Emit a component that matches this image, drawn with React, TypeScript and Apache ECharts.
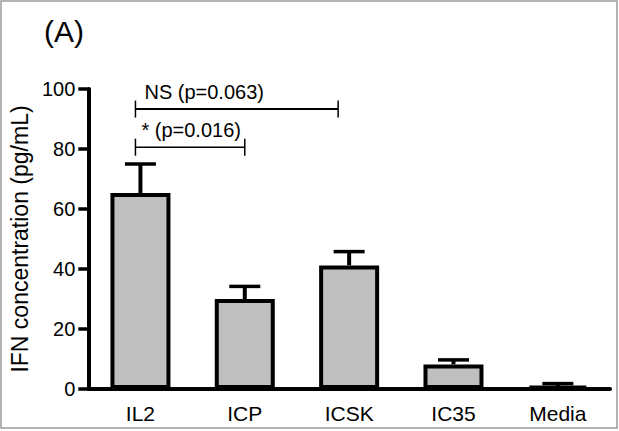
import React, { useEffect, useRef } from "react";
import * as echarts from "echarts";

// ---- data ----
const categories = ["IL2", "ICP", "ICSK", "IC35", "Media"];
const means = [65.3, 30.0, 41.2, 8.2, 1.0];
const errors = [9.7, 4.2, 4.6, 1.5, 0.8];
const yMin = 0;
const yMax = 100;
const yInterval = 20;
const bracketFrom = [0, 0];
const bracketTo = [2, 1];
const bracketY = [93.3, 80.6];
const bracketLabels = ["NS (p=0.063)", "* (p=0.016)"];
const titleText = "(A)";
const yAxisName = "IFN concentration (pg/mL)";

// ---- styles ----
const FONT = "Liberation Sans";
const bracketStartAdj = [-5, -5];
const bracketEndAdj = [-11, 0];
const bracketLineW = [2, 1.6];

export default function App() {
  const ref = useRef<HTMLDivElement>(null);
  useEffect(() => {
    if (!ref.current) return;
    const chart = echarts.init(ref.current, undefined, { renderer: "svg" });
    const option: any = {
      animation: false,
      backgroundColor: "#ffffff",
      title: {
        text: titleText,
        left: 39,
        top: 11,
        textStyle: { fontFamily: FONT, fontSize: 30, fontWeight: "normal", color: "#000" },
      },
      graphic: [
        {
          type: "rect",
          shape: { x: 1, y: 1, width: 616, height: 427 },
          style: { fill: "none", stroke: "#9a9a9a", lineWidth: 1.5 },
          silent: true,
          z: 100,
        },
      ],
      grid: { left: 87, right: 9, top: 89, bottom: 42, containLabel: false },
      xAxis: {
        type: "category",
        data: categories,
        boundaryGap: true,
        axisLine: { lineStyle: { color: "#000", width: 4 } },
        axisTick: { alignWithLabel: true, length: 11, lineStyle: { width: 4, color: "#000" } },
        axisLabel: { fontFamily: FONT, fontSize: 21, color: "#000", margin: 14 },
      },
      yAxis: {
        type: "value",
        min: yMin,
        max: yMax,
        interval: yInterval,
        name: yAxisName,
        nameLocation: "middle",
        nameGap: 54,
        nameTextStyle: { fontFamily: FONT, fontSize: 23, color: "#000" },
        axisLine: { show: true, lineStyle: { color: "#000", width: 4 } },
        axisTick: { show: true, length: 10, lineStyle: { width: 3.5, color: "#000" } },
        axisLabel: { fontFamily: FONT, fontSize: 20, color: "#000", margin: 13 },
        splitLine: { show: false },
      },
      series: [
        {
          type: "custom",
          z: 1,
          clip: false,
          data: categories.map((c, i) => [i, means[i], errors[i]]),
          encode: { x: 0, y: 1 },
          renderItem: (params: any, api: any) => {
            const x = api.value(0);
            const m = api.value(1);
            const e = api.value(2);
            const base = api.coord([x, m]);
            const top = api.coord([x, m + e]);
            return {
              type: "group",
              children: [
                {
                  type: "line",
                  shape: { x1: base[0], y1: base[1], x2: top[0], y2: top[1] },
                  style: { stroke: "#000", lineWidth: 4 },
                },
                {
                  type: "line",
                  shape: { x1: top[0] - 15.5, y1: top[1], x2: top[0] + 15.5, y2: top[1] },
                  style: { stroke: "#000", lineWidth: 3.5 },
                },
              ],
            };
          },
        },
        {
          type: "bar",
          z: 2,
          data: means,
          barWidth: 60,
          itemStyle: { color: "#bfbfbf", borderColor: "#000", borderWidth: 4 },
        },
        {
          type: "custom",
          z: 3,
          clip: false,
          data: bracketFrom.map((f, i) => [f, bracketY[i], bracketTo[i], i]),
          encode: { x: 0, y: 1 },
          renderItem: (params: any, api: any) => {
            const i = api.value(3);
            const a = api.coord([api.value(0), api.value(1)]);
            const b = api.coord([api.value(2), api.value(1)]);
            const x1 = a[0] + bracketStartAdj[i];
            const x2 = b[0] + bracketEndAdj[i];
            const y = a[1];
            const lw = bracketLineW[i];
            return {
              type: "group",
              children: [
                { type: "line", shape: { x1, y1: y, x2, y2: y }, style: { stroke: "#000", lineWidth: lw } },
                { type: "line", shape: { x1, y1: y - 8.5, x2: x1, y2: y + 8.5 }, style: { stroke: "#000", lineWidth: 1.5 } },
                { type: "line", shape: { x1: x2, y1: y - 8.5, x2, y2: y + 8.5 }, style: { stroke: "#000", lineWidth: 1.5 } },
                {
                  type: "text",
                  style: {
                    text: bracketLabels[i],
                    x: x1 + (i === 0 ? 9 : 6),
                    y: y - 17,
                    fill: "#000",
                    fontFamily: FONT,
                    fontSize: 20,
                    align: "left",
                    verticalAlign: "middle",
                  },
                },
              ],
            };
          },
        },
      ],
    };
    chart.setOption(option);
    return () => chart.dispose();
  }, []);
  return (
    <div
      ref={ref}
      style={{ position: "absolute", left: 0, top: 0, width: 619, height: 431 }}
    />
  );
}
